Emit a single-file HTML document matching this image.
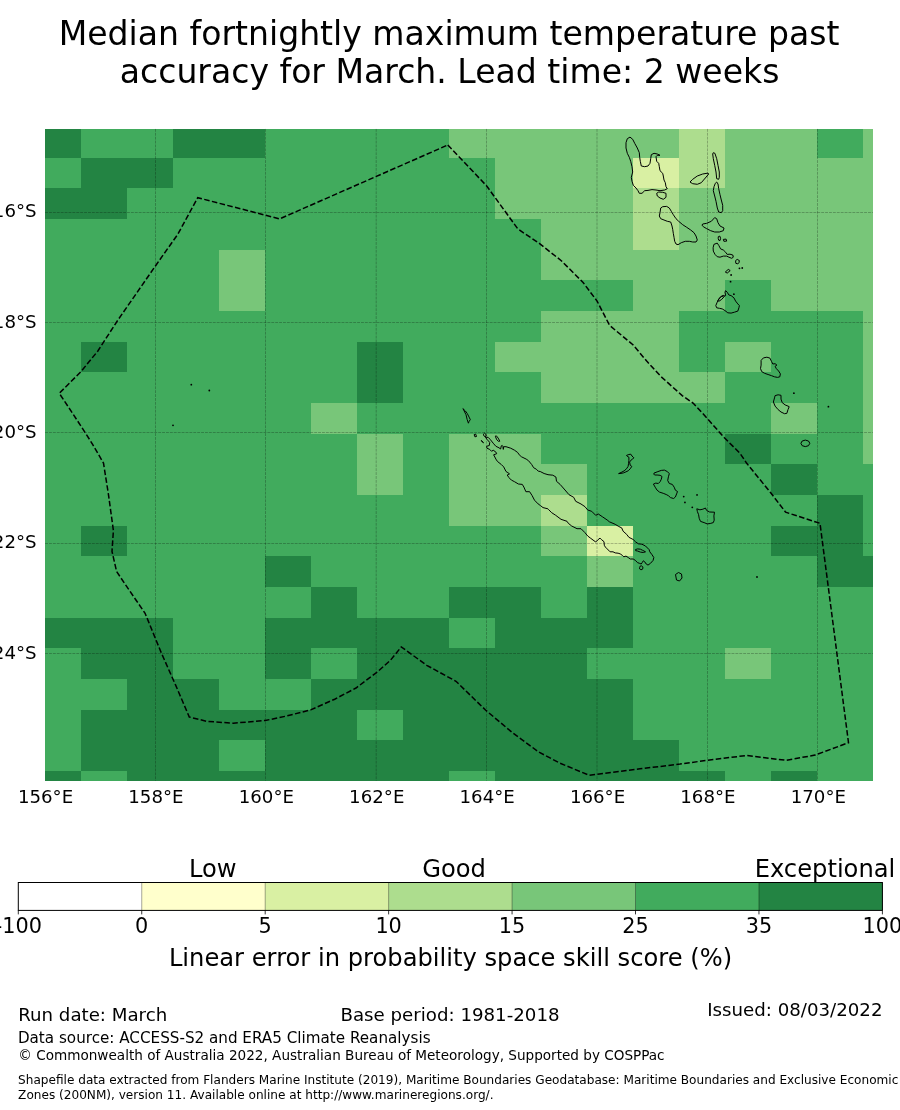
<!DOCTYPE html>
<html><head><meta charset="utf-8"><title>Median fortnightly maximum temperature past accuracy</title>
<style>html,body{margin:0;padding:0;background:#fff;width:900px;height:1110px;overflow:hidden}svg{display:block}</style>
</head><body><svg width="900" height="1110" viewBox="0 0 900 1110" font-family="'DejaVu Sans', 'Liberation Sans', sans-serif" fill="#000"><g shape-rendering="crispEdges"><rect x="45.1" y="128.9" width="827.80" height="651.90" fill="#41ab5d"/><rect x="45.10" y="128.90" width="35.80" height="28.80" fill="#238443"/><rect x="172.90" y="128.90" width="92.00" height="28.80" fill="#238443"/><rect x="448.90" y="128.90" width="230.00" height="28.80" fill="#78c679"/><rect x="678.90" y="128.90" width="46.00" height="28.80" fill="#addd8e"/><rect x="724.90" y="128.90" width="92.00" height="28.80" fill="#78c679"/><rect x="862.90" y="128.90" width="10.00" height="28.80" fill="#78c679"/><rect x="80.90" y="157.70" width="92.00" height="30.66" fill="#238443"/><rect x="494.90" y="157.70" width="138.00" height="30.66" fill="#78c679"/><rect x="632.90" y="157.70" width="46.00" height="30.66" fill="#d9f0a3"/><rect x="678.90" y="157.70" width="46.00" height="30.66" fill="#addd8e"/><rect x="724.90" y="157.70" width="148.00" height="30.66" fill="#78c679"/><rect x="45.10" y="188.36" width="81.80" height="30.66" fill="#238443"/><rect x="494.90" y="188.36" width="138.00" height="30.66" fill="#78c679"/><rect x="632.90" y="188.36" width="46.00" height="30.66" fill="#addd8e"/><rect x="678.90" y="188.36" width="194.00" height="30.66" fill="#78c679"/><rect x="540.90" y="219.02" width="92.00" height="30.66" fill="#78c679"/><rect x="632.90" y="219.02" width="46.00" height="30.66" fill="#addd8e"/><rect x="678.90" y="219.02" width="194.00" height="30.66" fill="#78c679"/><rect x="218.90" y="249.68" width="46.00" height="30.66" fill="#78c679"/><rect x="540.90" y="249.68" width="332.00" height="30.66" fill="#78c679"/><rect x="218.90" y="280.34" width="46.00" height="30.66" fill="#78c679"/><rect x="632.90" y="280.34" width="92.00" height="30.66" fill="#78c679"/><rect x="770.90" y="280.34" width="102.00" height="30.66" fill="#78c679"/><rect x="540.90" y="311.00" width="138.00" height="30.66" fill="#78c679"/><rect x="862.90" y="311.00" width="10.00" height="30.66" fill="#78c679"/><rect x="80.90" y="341.66" width="46.00" height="30.66" fill="#238443"/><rect x="356.90" y="341.66" width="46.00" height="30.66" fill="#238443"/><rect x="494.90" y="341.66" width="184.00" height="30.66" fill="#78c679"/><rect x="724.90" y="341.66" width="46.00" height="30.66" fill="#78c679"/><rect x="862.90" y="341.66" width="10.00" height="30.66" fill="#78c679"/><rect x="356.90" y="372.32" width="46.00" height="30.66" fill="#238443"/><rect x="540.90" y="372.32" width="184.00" height="30.66" fill="#78c679"/><rect x="862.90" y="372.32" width="10.00" height="30.66" fill="#78c679"/><rect x="310.90" y="402.98" width="46.00" height="30.66" fill="#78c679"/><rect x="770.90" y="402.98" width="46.00" height="30.66" fill="#78c679"/><rect x="862.90" y="402.98" width="10.00" height="30.66" fill="#78c679"/><rect x="356.90" y="433.64" width="46.00" height="30.66" fill="#78c679"/><rect x="448.90" y="433.64" width="92.00" height="30.66" fill="#78c679"/><rect x="724.90" y="433.64" width="46.00" height="30.66" fill="#238443"/><rect x="862.90" y="433.64" width="10.00" height="30.66" fill="#78c679"/><rect x="356.90" y="464.30" width="46.00" height="30.66" fill="#78c679"/><rect x="448.90" y="464.30" width="138.00" height="30.66" fill="#78c679"/><rect x="770.90" y="464.30" width="46.00" height="30.66" fill="#238443"/><rect x="448.90" y="494.96" width="92.00" height="30.66" fill="#78c679"/><rect x="540.90" y="494.96" width="46.00" height="30.66" fill="#addd8e"/><rect x="816.90" y="494.96" width="46.00" height="30.66" fill="#238443"/><rect x="80.90" y="525.62" width="46.00" height="30.66" fill="#238443"/><rect x="540.90" y="525.62" width="46.00" height="30.66" fill="#78c679"/><rect x="586.90" y="525.62" width="46.00" height="30.66" fill="#d9f0a3"/><rect x="770.90" y="525.62" width="92.00" height="30.66" fill="#238443"/><rect x="264.90" y="556.28" width="46.00" height="30.66" fill="#238443"/><rect x="586.90" y="556.28" width="46.00" height="30.66" fill="#78c679"/><rect x="816.90" y="556.28" width="56.00" height="30.66" fill="#238443"/><rect x="310.90" y="586.94" width="46.00" height="30.66" fill="#238443"/><rect x="448.90" y="586.94" width="92.00" height="30.66" fill="#238443"/><rect x="586.90" y="586.94" width="46.00" height="30.66" fill="#238443"/><rect x="45.10" y="617.60" width="127.80" height="30.66" fill="#238443"/><rect x="264.90" y="617.60" width="184.00" height="30.66" fill="#238443"/><rect x="494.90" y="617.60" width="138.00" height="30.66" fill="#238443"/><rect x="80.90" y="648.26" width="92.00" height="30.66" fill="#238443"/><rect x="264.90" y="648.26" width="46.00" height="30.66" fill="#238443"/><rect x="356.90" y="648.26" width="230.00" height="30.66" fill="#238443"/><rect x="724.90" y="648.26" width="46.00" height="30.66" fill="#78c679"/><rect x="126.90" y="678.92" width="92.00" height="30.66" fill="#238443"/><rect x="310.90" y="678.92" width="322.00" height="30.66" fill="#238443"/><rect x="80.90" y="709.58" width="276.00" height="30.66" fill="#238443"/><rect x="402.90" y="709.58" width="230.00" height="30.66" fill="#238443"/><rect x="80.90" y="740.24" width="138.00" height="30.66" fill="#238443"/><rect x="264.90" y="740.24" width="414.00" height="30.66" fill="#238443"/><rect x="45.10" y="770.90" width="35.80" height="9.90" fill="#238443"/><rect x="126.90" y="770.90" width="322.00" height="9.90" fill="#238443"/><rect x="494.90" y="770.90" width="230.00" height="9.90" fill="#238443"/><rect x="770.90" y="770.90" width="46.00" height="9.90" fill="#238443"/></g><g stroke="#000" stroke-opacity="0.45" stroke-width="0.55" stroke-dasharray="2.9 1.0"><line x1="155.50" y1="128.9" x2="155.50" y2="780.8"/><line x1="265.50" y1="128.9" x2="265.50" y2="780.8"/><line x1="376.20" y1="128.9" x2="376.20" y2="780.8"/><line x1="486.50" y1="128.9" x2="486.50" y2="780.8"/><line x1="597.00" y1="128.9" x2="597.00" y2="780.8"/><line x1="707.50" y1="128.9" x2="707.50" y2="780.8"/><line x1="817.50" y1="128.9" x2="817.50" y2="780.8"/><line x1="45.1" y1="212.50" x2="872.9" y2="212.50"/><line x1="45.1" y1="322.50" x2="872.9" y2="322.50"/><line x1="45.1" y1="432.50" x2="872.9" y2="432.50"/><line x1="45.1" y1="543.50" x2="872.9" y2="543.50"/><line x1="45.1" y1="653.50" x2="872.9" y2="653.50"/></g><g fill="none" stroke="#000" stroke-width="1.0" stroke-linejoin="round"><path d="M630.0 137.1 L632.7 139.3 L634.7 143.3 L637.3 148.0 L639.3 152.7 L639.7 157.3 L640.3 161.3 L641.3 166.0 L644.7 166.7 L648.0 166.0 L650.0 163.3 L650.7 158.7 L651.3 154.7 L654.0 153.3 L657.3 154.0 L660.0 155.3 L657.3 155.3 L656.0 156.7 L656.7 161.3 L658.7 163.3 L659.3 166.7 L660.0 170.7 L662.7 173.3 L663.3 176.0 L664.0 180.0 L665.3 182.7 L666.0 186.7 L667.3 188.7 L664.7 190.0 L660.0 190.7 L656.0 190.0 L652.0 189.6 L648.0 190.4 L644.7 190.7 L642.0 193.3 L639.3 193.3 L638.0 190.7 L636.0 188.0 L633.3 185.3 L632.0 181.3 L631.3 177.3 L632.7 172.0 L632.0 166.7 L630.7 161.3 L629.3 157.3 L627.3 153.3 L626.0 148.0 L626.0 142.7 L627.3 138.7Z"/><path d="M656.7 193.3 L658.7 192.0 L662.7 192.3 L666.0 193.3 L666.0 197.3 L663.3 199.3 L660.0 198.0 L657.3 196.0Z"/><path d="M660.7 208.0 L662.7 206.7 L666.7 206.4 L669.3 208.0 L671.3 211.3 L673.3 214.7 L676.0 218.7 L678.7 221.3 L682.7 224.7 L686.7 227.3 L690.7 230.0 L694.0 232.7 L696.0 236.0 L697.3 240.0 L696.0 242.0 L692.7 242.0 L689.3 241.3 L685.3 241.3 L681.3 242.7 L678.0 244.7 L676.0 244.0 L674.7 241.3 L674.0 237.3 L673.3 233.3 L672.7 229.3 L672.0 226.0 L670.7 222.0 L667.3 221.3 L664.0 220.0 L660.7 218.7 L659.3 216.0 L660.0 212.7Z"/><path d="M690.0 182.0 L692.7 179.3 L697.3 176.0 L702.7 174.0 L708.0 173.1 L708.7 174.0 L705.3 178.0 L701.3 182.7 L697.3 184.3 L692.7 183.7Z"/><path d="M713.3 152.7 L714.9 153.3 L716.7 158.7 L718.0 165.3 L719.3 172.0 L719.3 177.3 L718.7 179.3 L716.7 178.7 L716.0 172.0 L714.7 165.3 L713.3 158.7 L712.7 154.0Z"/><path d="M716.7 182.0 L718.0 184.0 L718.7 188.7 L720.0 194.7 L721.3 200.0 L722.7 205.3 L722.7 210.7 L721.3 212.7 L718.7 212.0 L717.3 208.0 L716.0 201.3 L714.7 196.0 L713.3 190.7 L714.0 186.7 L715.3 183.3Z"/><path d="M702.7 224.0 L706.7 223.3 L711.3 221.3 L714.7 217.6 L716.7 218.7 L718.0 222.7 L720.0 226.0 L724.0 228.0 L723.3 230.7 L719.3 232.0 L714.7 232.0 L710.7 230.7 L706.7 228.7 L703.3 226.7 L702.0 225.1Z"/><path d="M718.3 236.7 L719.8 236.1 L720.6 238.3 L720.0 240.6 L718.7 240.2 L718.2 238.3Z"/><path d="M723.3 239.4 L726.1 239.1 L726.7 241.1 L723.9 241.3Z"/><path d="M713.9 244.4 L717.2 243.1 L718.9 245.6 L720.6 248.9 L723.3 250.0 L725.6 252.2 L727.2 254.4 L730.0 254.2 L732.8 255.0 L733.3 257.2 L731.7 258.3 L728.9 257.2 L726.7 256.1 L723.3 256.1 L720.0 257.2 L717.2 256.7 L715.0 254.4 L713.3 251.1 L713.1 247.8Z"/><path d="M735.6 260.6 L737.2 259.4 L739.4 260.6 L738.9 262.8 L737.8 263.9 L735.8 263.3Z"/><path d="M725.3 272.0 L728.3 269.4 L730.2 270.6 L727.2 273.1Z"/><path d="M725.6 290.6 L727.2 292.2 L728.9 295.0 L731.1 295.6 L733.9 297.8 L735.6 301.1 L737.8 303.9 L739.4 305.6 L738.9 307.8 L737.8 311.1 L734.4 312.2 L731.1 313.1 L727.8 312.8 L725.0 310.6 L722.2 308.9 L719.4 308.3 L716.7 307.8 L715.8 305.6 L717.2 302.2 L718.9 298.9 L721.1 296.7 L723.3 296.1 L725.6 295.6 L725.0 292.2Z"/><path d="M761.1 360.4 L763.4 357.9 L766.9 357.2 L769.9 358.1 L771.6 361.6 L772.8 364.0 L775.1 363.7 L776.9 365.1 L775.1 366.3 L776.3 368.6 L778.6 371.0 L780.4 373.9 L779.8 376.8 L777.5 377.4 L774.5 376.8 L771.6 375.7 L768.1 374.5 L764.6 373.3 L761.7 371.6 L760.5 368.6 L761.1 365.1Z"/><path d="M775.1 395.6 L778.1 394.8 L781.0 395.3 L781.0 399.1 L782.2 402.6 L785.1 404.9 L788.0 406.1 L789.2 406.7 L788.0 409.6 L786.8 413.4 L784.5 413.7 L781.0 412.0 L778.1 409.6 L775.1 406.1 L773.4 402.0 L774.5 397.9Z"/><path d="M800.9 443.3 L802.2 441.0 L805.3 440.1 L808.5 441.0 L809.8 443.3 L808.5 445.7 L805.3 446.6 L802.2 445.7Z"/><path d="M485.4 437.3 L488.1 437.3 L490.4 439.7 L493.2 443.2 L495.9 446.3 L499.0 447.8 L500.6 449.0 L501.3 445.9 L502.1 445.3 L502.9 446.3 L503.3 449.4 L503.7 446.7 L506.0 446.7 L510.7 448.2 L514.5 450.2 L517.7 452.5 L519.2 454.8 L521.5 456.8 L526.2 459.1 L528.5 460.7 L531.7 464.5 L533.6 467.7 L536.3 469.2 L538.3 471.2 L540.2 471.5 L544.1 473.5 L548.0 474.7 L552.8 475.2 L555.9 477.0 L556.5 481.3 L560.1 484.4 L565.0 490.0 L569.0 494.7 L573.7 497.3 L575.7 501.3 L581.0 504.0 L585.0 506.7 L587.7 510.0 L591.7 511.3 L595.7 515.3 L598.3 514.0 L602.3 516.7 L607.2 520.0 L609.4 521.8 L615.2 524.3 L618.8 526.5 L621.7 527.9 L623.1 531.2 L626.7 534.4 L628.9 537.3 L633.2 539.5 L635.4 541.7 L638.3 543.8 L641.9 544.2 L645.5 546.0 L649.1 549.6 L649.8 551.8 L652.0 554.7 L653.8 557.5 L653.1 560.4 L650.5 563.3 L648.0 565.1 L646.2 564.0 L644.8 561.9 L643.3 560.8 L642.2 562.6 L641.2 564.0 L639.4 563.3 L637.5 562.6 L635.4 560.4 L633.2 559.0 L630.3 559.0 L628.2 557.5 L626.0 556.1 L623.8 556.8 L622.4 555.4 L620.2 553.9 L618.1 553.2 L615.2 552.9 L613.0 551.8 L610.1 551.8 L607.2 548.9 L605.4 547.1 L604.3 545.3 L604.0 541.7 L601.4 539.5 L600.0 538.1 L597.7 540.0 L595.7 542.0 L590.3 538.0 L587.7 536.0 L585.0 532.7 L581.0 528.7 L577.0 528.7 L571.7 526.0 L568.3 523.3 L567.0 521.3 L561.0 519.3 L555.7 515.3 L551.7 512.7 L548.3 509.3 L547.9 508.8 L543.0 507.6 L540.6 505.7 L538.1 503.9 L534.5 500.2 L532.0 495.4 L529.6 491.7 L525.9 491.7 L523.9 487.1 L522.3 484.4 L518.4 484.0 L514.5 481.7 L511.4 480.1 L509.1 477.8 L507.2 475.0 L509.5 473.9 L507.9 472.7 L506.0 471.5 L503.7 466.9 L501.3 464.5 L497.4 461.4 L495.9 459.1 L494.3 456.0 L493.6 454.8 L496.7 453.7 L495.9 452.1 L493.2 450.2 L491.6 451.3 L489.7 449.4 L486.9 448.2 L486.6 446.3 L489.3 445.5 L489.7 442.4 L487.3 439.7 L485.4 437.3Z"/><path d="M462.9 408.6 L465.4 411.0 L467.2 413.4 L469.1 417.1 L470.3 419.6 L469.1 421.4 L468.4 423.2 L467.2 419.6 L466.0 414.7 L464.2 411.0Z"/><path d="M483.4 434.2 L484.6 433.1 L485.8 434.2 L486.2 436.2 L485.0 436.6 L483.8 435.8Z"/><path d="M495.3 436.2 L496.3 435.8 L498.2 438.1 L499.8 441.2 L498.6 441.4 L496.7 439.7Z"/><path d="M481.3 440.4 L483.6 442.6 L483.3 442.8 L481.1 440.8Z"/><path d="M474.1 434.7 L475.7 434.1 L476.5 436.5 L474.9 436.8Z"/><path d="M675.5 574.5 L678.5 572.5 L681.5 574.0 L682.0 578.0 L679.5 581.0 L676.5 580.0Z"/><path d="M654.0 473.1 L657.1 471.9 L661.3 470.4 L664.4 470.1 L667.5 471.7 L669.3 473.7 L668.4 476.8 L667.7 480.5 L669.3 483.5 L672.3 484.4 L674.2 487.2 L675.4 490.2 L677.5 491.5 L676.6 493.9 L675.4 497.0 L673.6 498.5 L670.5 497.6 L668.4 495.7 L666.2 494.5 L663.2 493.3 L659.5 492.1 L657.1 490.2 L655.2 487.2 L653.4 484.1 L655.8 483.1 L658.3 483.5 L660.1 481.7 L661.3 479.2 L662.0 476.5 L660.1 475.3 L657.1 475.0 L654.6 475.0 L653.8 474.1Z"/><path d="M626.5 455.4 L628.9 454.5 L630.8 454.2 L632.0 456.0 L633.8 457.8 L632.6 459.1 L630.8 460.3 L629.6 462.1 L630.2 465.2 L631.8 466.4 L630.2 468.8 L628.3 470.7 L625.9 471.9 L623.4 472.9 L621.0 473.4 L618.6 473.6 L621.0 472.5 L624.1 470.9 L626.5 468.8 L628.1 466.4 L628.6 463.3 L628.9 460.3 L628.9 457.2 L627.1 456.2Z"/><path d="M696.8 508.8 L699.9 509.8 L702.9 509.2 L705.4 508.0 L706.6 510.4 L709.6 512.0 L714.5 512.2 L713.9 515.9 L714.2 520.2 L713.3 522.6 L710.2 523.5 L707.2 523.9 L704.1 522.6 L700.5 521.4 L699.2 518.3 L698.6 514.7 L697.4 511.6Z"/><path d="M635.4 549.6 L637.5 548.9 L640.4 549.2 L642.6 550.3 L645.5 551.8 L643.3 552.5 L640.4 552.1 L637.5 551.0 L635.7 550.7Z"/><path d="M639.6 567.7 L640.1 566.2 L641.3 565.8 L642.6 566.6 L643.0 568.0 L642.2 569.5 L640.8 569.7 L639.7 569.0Z"/><path d="M717.8 300.6 L720.6 296.7 L723.3 295.3 L724.4 296.4 L721.7 299.4 L718.9 301.3Z"/></g><g fill="#000"><circle cx="191.3" cy="384.7" r="0.9"/><circle cx="209.3" cy="390.5" r="0.9"/><circle cx="173" cy="425.3" r="0.9"/><circle cx="793.9" cy="393.2" r="0.9"/><circle cx="828.4" cy="406.7" r="0.9"/><circle cx="757" cy="577" r="0.9"/><circle cx="683.7163814180929" cy="496.58924205378975" r="0.9"/><circle cx="684.9388753056235" cy="502.4572127139364" r="0.9"/><circle cx="692.2738386308068" cy="507.3471882640587" r="0.9"/><circle cx="697.041564792176" cy="494.87775061124694" r="0.9"/><circle cx="731.1111111111111" cy="275.0" r="0.9"/><circle cx="730.5555555555555" cy="281.6666666666667" r="0.9"/><circle cx="733.8888888888889" cy="294.22222222222223" r="0.9"/><circle cx="739.4444444444445" cy="268.3333333333333" r="0.9"/><circle cx="742.2222222222222" cy="268.0" r="0.9"/></g><path d="M447.8 145.0 L486.7 186.0 L517.8 228.9 L539.6 243.6 L561.3 260.7 L583.1 282.5 L597.1 301.1 L609.6 325.4 L632.9 344.7 L646.7 361.1 L661.1 376.7 L682.2 395.6 L693.3 403.3 L706.7 417.8 L724.4 437.8 L740.0 453.3 L746.7 463.3 L771.1 493.3 L785.6 512.2 L820.0 523.3 L848.5 742.7 L815.1 755.1 L785.9 760.3 L746.4 755.5 L707.0 760.3 L680.0 764.1 L640.0 768.8 L589.3 775.3 L560.0 763.2 L538.7 752.0 L512.0 732.3 L485.5 710.0 L456.0 681.3 L426.7 665.3 L401.3 646.9 L390.7 660.0 L377.3 672.0 L356.0 688.0 L334.7 699.2 L310.7 709.9 L286.7 716.0 L265.3 720.5 L233.3 723.2 L206.7 721.3 L189.3 717.0 L175.3 684.4 L161.1 652.4 L145.1 613.3 L125.6 584.9 L116.6 571.5 L112.0 551.4 L113.4 530.5 L108.5 494.8 L103.5 463.1 L92.6 444.3 L85.7 433.4 L70.8 410.6 L59.3 393.3 L80.7 371.9 L97.7 351.2 L117.6 320.5 L156.3 264.7 L177.9 234.1 L197.7 197.7 L279.6 218.9 L447.8 145.0" fill="none" stroke="#000" stroke-width="1.5" stroke-dasharray="5.55 2.4"/><text x="36.6" y="217.10" text-anchor="end" font-size="18.2">16°S</text><text x="36.6" y="327.50" text-anchor="end" font-size="18.2">18°S</text><text x="36.6" y="437.90" text-anchor="end" font-size="18.2">20°S</text><text x="36.6" y="548.30" text-anchor="end" font-size="18.2">22°S</text><text x="36.6" y="658.70" text-anchor="end" font-size="18.2">24°S</text><text x="45.55" y="803.3" text-anchor="middle" font-size="18.2">156°E</text><text x="155.95" y="803.3" text-anchor="middle" font-size="18.2">158°E</text><text x="266.35" y="803.3" text-anchor="middle" font-size="18.2">160°E</text><text x="376.75" y="803.3" text-anchor="middle" font-size="18.2">162°E</text><text x="487.15" y="803.3" text-anchor="middle" font-size="18.2">164°E</text><text x="597.55" y="803.3" text-anchor="middle" font-size="18.2">166°E</text><text x="707.95" y="803.3" text-anchor="middle" font-size="18.2">168°E</text><text x="818.35" y="803.3" text-anchor="middle" font-size="18.2">170°E</text><text x="449.1" y="45" text-anchor="middle" font-size="33.1">Median fortnightly maximum temperature past</text><text x="449.6" y="83.3" text-anchor="middle" font-size="33.1">accuracy for March. Lead time: 2 weeks</text><rect x="18.30" y="882.5" width="123.74" height="27.899999999999977" fill="#ffffff"/><rect x="141.74" y="882.5" width="123.74" height="27.899999999999977" fill="#ffffcc"/><rect x="265.19" y="882.5" width="123.74" height="27.899999999999977" fill="#d9f0a3"/><rect x="388.63" y="882.5" width="123.74" height="27.899999999999977" fill="#addd8e"/><rect x="512.07" y="882.5" width="123.74" height="27.899999999999977" fill="#78c679"/><rect x="635.51" y="882.5" width="123.74" height="27.899999999999977" fill="#41ab5d"/><rect x="758.96" y="882.5" width="123.74" height="27.899999999999977" fill="#238443"/><g stroke="#000" stroke-opacity="0.35" stroke-width="1"><line x1="141.74" y1="882.5" x2="141.74" y2="910.4"/><line x1="265.19" y1="882.5" x2="265.19" y2="910.4"/><line x1="388.63" y1="882.5" x2="388.63" y2="910.4"/><line x1="512.07" y1="882.5" x2="512.07" y2="910.4"/><line x1="635.51" y1="882.5" x2="635.51" y2="910.4"/><line x1="758.96" y1="882.5" x2="758.96" y2="910.4"/></g><g stroke="#000" stroke-width="0.8"><line x1="18.30" y1="910.4" x2="18.30" y2="914.4"/><line x1="141.74" y1="910.4" x2="141.74" y2="914.4"/><line x1="265.19" y1="910.4" x2="265.19" y2="914.4"/><line x1="388.63" y1="910.4" x2="388.63" y2="914.4"/><line x1="512.07" y1="910.4" x2="512.07" y2="914.4"/><line x1="635.51" y1="910.4" x2="635.51" y2="914.4"/><line x1="758.96" y1="910.4" x2="758.96" y2="914.4"/><line x1="882.40" y1="910.4" x2="882.40" y2="914.4"/></g><rect x="18.3" y="882.5" width="864.10" height="27.899999999999977" fill="none" stroke="#000" stroke-width="1"/><text x="18.30" y="933" text-anchor="middle" font-size="20.8">-100</text><text x="141.74" y="933" text-anchor="middle" font-size="20.8">0</text><text x="265.19" y="933" text-anchor="middle" font-size="20.8">5</text><text x="388.63" y="933" text-anchor="middle" font-size="20.8">10</text><text x="512.07" y="933" text-anchor="middle" font-size="20.8">15</text><text x="635.51" y="933" text-anchor="middle" font-size="20.8">25</text><text x="758.96" y="933" text-anchor="middle" font-size="20.8">35</text><text x="882.40" y="933" text-anchor="middle" font-size="20.8">100</text><text x="212.7" y="877" text-anchor="middle" font-size="24.2">Low</text><text x="454" y="877" text-anchor="middle" font-size="24.2">Good</text><text x="825" y="877" text-anchor="middle" font-size="24.2">Exceptional</text><text x="450.5" y="966" text-anchor="middle" font-size="24.2">Linear error in probability space skill score (%)</text><text x="18.2" y="1021" font-size="18.2">Run date: March</text><text x="450" y="1021" text-anchor="middle" font-size="18.2">Base period: 1981-2018</text><text x="882.5" y="1016" text-anchor="end" font-size="18.2">Issued: 08/03/2022</text><text x="17.9" y="1043" font-size="15.18">Data source: ACCESS-S2 and ERA5 Climate Reanalysis</text><text x="18.3" y="1060" font-size="13.58">© Commonwealth of Australia 2022, Australian Bureau of Meteorology, Supported by COSPPac</text><text x="18.1" y="1083.7" font-size="12.1">Shapefile data extracted from Flanders Marine Institute (2019), Maritime Boundaries Geodatabase: Maritime Boundaries and Exclusive Economic</text><text x="18.1" y="1099.2" font-size="12.1">Zones (200NM), version 11. Available online at http://www.marineregions.org/.</text></svg></body></html>
